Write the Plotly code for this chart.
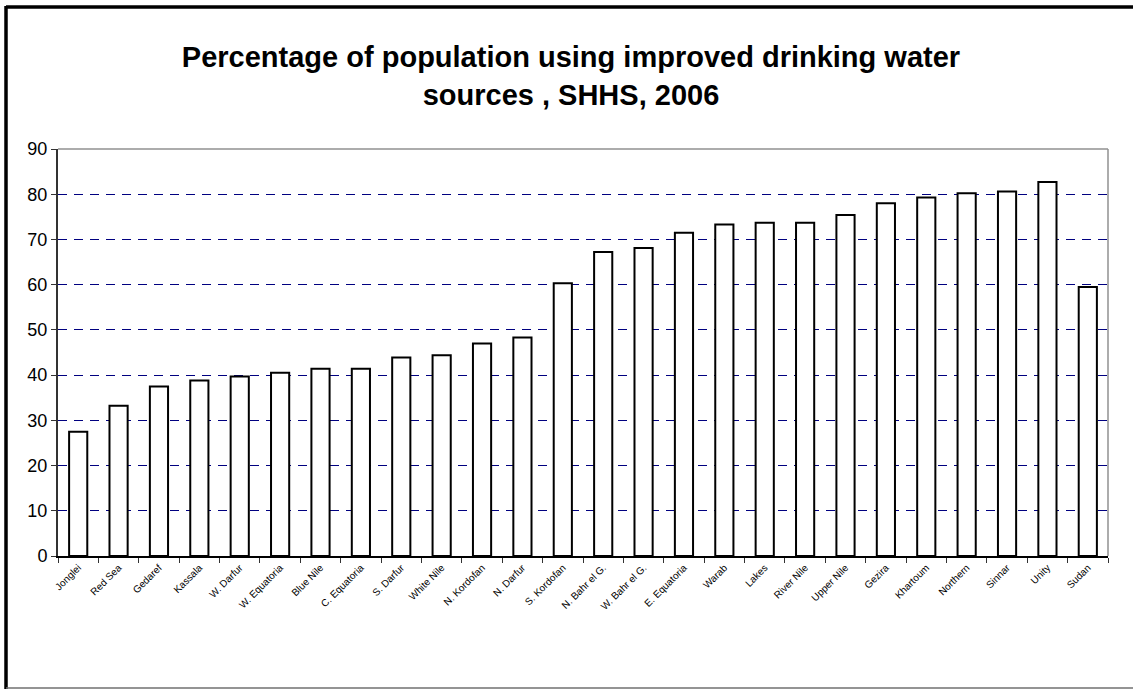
import plotly.graph_objects as go

# Regions (states) of Sudan and the national figure
regions = [
    "Jonglei", "Red Sea", "Gedaref", "Kassala", "W. Darfur", "W. Equatoria",
    "Blue Nile", "C. Equatoria", "S. Darfur", "White Nile", "N. Kordofan",
    "N. Darfur", "S. Kordofan", "N. Bahr el G.", "W. Bahr el G.", "E. Equatoria",
    "Warab", "Lakes", "River Nile", "Upper Nile", "Gezira", "Khartoum",
    "Northern", "Sinnar", "Unity", "Sudan",
]

# Percentage of population using improved drinking water sources
pct_improved = [
    27.5, 33.2, 37.5, 38.8, 39.7, 40.5,
    41.4, 41.4, 43.9, 44.4, 47.0,
    48.3, 60.3, 67.2, 68.1, 71.5,
    73.3, 73.7, 73.7, 75.4, 78.0, 79.3,
    80.2, 80.6, 82.7, 59.5,
]

y_ticks = [0, 10, 20, 30, 40, 50, 60, 70, 80, 90]

title_text = ("<b>Percentage of population using improved drinking water<br>"
              "sources , SHHS, 2006</b>")

W, H = 1133, 689
L, R, T, B = 58, 1108, 149, 556  # plot area in pixels


def px_x(px):
    return (px - L) / (R - L)


def px_y(py):
    return (B - py) / (B - T)


fig = go.Figure(
    go.Bar(
        x=regions,
        y=pct_improved,
        width=0.45,
        marker=dict(color="white", line=dict(color="black", width=2)),
    )
)

fig.update_layout(
    width=W,
    height=H,
    margin=dict(l=L, r=W - R, t=T, b=H - B),
    paper_bgcolor="white",
    plot_bgcolor="white",
    showlegend=False,
    font=dict(family="Arial, Liberation Sans, sans-serif", color="black"),
    title=dict(
        text=title_text,
        font=dict(size=29, color="black"),
        x=571 / W,
        xanchor="center",
        xref="container",
        y=1 - 67 / H,
        yanchor="top",
        yref="container",
    ),
    xaxis=dict(
        type="category",
        tickangle=-45,
        tickfont=dict(size=10, color="black"),
        ticks="outside",
        tickson="boundaries",
        ticklen=5,
        tickcolor="#333333",
        showline=True,
        linecolor="black",
        linewidth=2,
        showgrid=False,
        range=[-0.5, len(regions) - 0.5],
    ),
    yaxis=dict(
        range=[0, 90],
        tickvals=y_ticks,
        tickfont=dict(size=18, color="black"),
        ticks="outside",
        ticklen=5,
        tickcolor="#333333",
        showline=True,
        linecolor="#333333",
        linewidth=2,
        showgrid=True,
        gridcolor="#000080",
        gridwidth=1,
        griddash="9px,7px",
        zeroline=False,
    ),
    bargap=0.55,
    shapes=[
        # gray frame along the top and right of the plot area
        dict(type="line", xref="paper", yref="paper", x0=0, x1=1, y0=1, y1=1,
             line=dict(color="#909090", width=1.5), layer="below"),
        dict(type="line", xref="paper", yref="paper", x0=1, x1=1, y0=0, y1=1,
             line=dict(color="#909090", width=1.5), layer="below"),
        # outer chart border
        dict(type="line", xref="paper", yref="paper",
             x0=px_x(6), x1=px_x(W), y0=px_y(7), y1=px_y(7),
             line=dict(color="black", width=3.5)),
        dict(type="line", xref="paper", yref="paper",
             x0=px_x(6), x1=px_x(6), y0=px_y(6), y1=px_y(H),
             line=dict(color="black", width=3.5)),
        dict(type="line", xref="paper", yref="paper",
             x0=px_x(6), x1=px_x(W), y0=px_y(688), y1=px_y(688),
             line=dict(color="#707070", width=1.5)),
    ],
)

fig.write_html("out.html")
